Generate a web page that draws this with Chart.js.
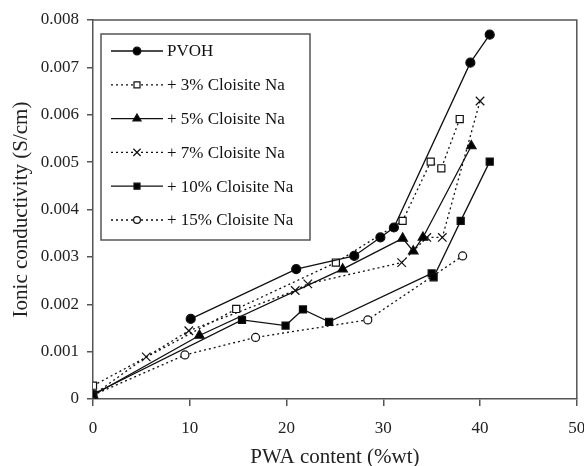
<!DOCTYPE html>
<html>
<head>
<meta charset="utf-8">
<script src="https://cdn.jsdelivr.net/npm/chart.js@4"></script>
<style>
  html, body { margin: 0; padding: 0; background: #fff; }
  #wrap { width: 584px; height: 466px; }
</style>
</head>
<body>
<div id="wrap"><canvas id="chart" width="584" height="466"></canvas></div>
<script>
// ---- data ----
const seriesNames = ['PVOH', '+ 3% Cloisite Na', '+ 5% Cloisite Na', '+ 7% Cloisite Na', '+ 10% Cloisite Na', '+ 15% Cloisite Na'];

const pwaPvoh  = [10.1, 21.0, 27.0, 29.7, 31.1, 39.0, 41.0];
const condPvoh = [0.00169, 0.00274, 0.00302, 0.00341, 0.00362, 0.00710, 0.00769];

const pwa3  = [0, 14.8, 25.1, 32.0, 34.9, 36.0, 37.9];
const cond3 = [0.00028, 0.00190, 0.00288, 0.00376, 0.00501, 0.00487, 0.00591];

const pwa5  = [0, 11.0, 25.8, 32.0, 33.1, 34.1, 39.1];
const cond5 = [0.00008, 0.00134, 0.00274, 0.00339, 0.00312, 0.00341, 0.00534];

const pwa7  = [0, 5.5, 9.9, 20.9, 22.2, 31.9, 34.5, 36.1, 40.0];
const cond7 = [0.00008, 0.00089, 0.00144, 0.00229, 0.00243, 0.00288, 0.00341, 0.00341, 0.00629];

const pwa10  = [0, 15.4, 19.9, 21.7, 24.4, 35.0, 35.2, 38.0, 41.0];
const cond10 = [0.00010, 0.00167, 0.00155, 0.00189, 0.00163, 0.00265, 0.00257, 0.00376, 0.00501];

const pwa15  = [0, 9.5, 16.8, 28.4, 38.2];
const cond15 = [0.00008, 0.00093, 0.00130, 0.00167, 0.00302];

const xTicks = [0, 10, 20, 30, 40, 50];
const yTicks = [0, 0.001, 0.002, 0.003, 0.004, 0.005, 0.006, 0.007, 0.008];

// ---- styling ----
const FONT = "'Liberation Serif', 'Times New Roman', serif";
const AXIS = '#555';
const DOT = [2, 3];

const pts = (xs, ys) => xs.map((x, i) => ({ x, y: ys[i] }));

const styles = [
  { pointStyle: 'circle',   fill: '#000', r: 4.5, dash: [] },
  { pointStyle: 'rect',     fill: '#fff', r: 5,   dash: DOT },
  { pointStyle: 'triangle', fill: '#000', r: 5.5, dash: [] },
  { pointStyle: 'crossRot', fill: '#000', r: 6,   dash: DOT },
  { pointStyle: 'rect',     fill: '#000', r: 5,   dash: [] },
  { pointStyle: 'circle',   fill: '#fff', r: 4,   dash: DOT }
];

const rawData = [
  pts(pwaPvoh, condPvoh), pts(pwa3, cond3), pts(pwa5, cond5),
  pts(pwa7, cond7), pts(pwa10, cond10), pts(pwa15, cond15)
];

const datasets = rawData.map((data, i) => ({
  label: seriesNames[i],
  data,
  showLine: true,
  borderColor: '#111',
  borderWidth: 1.3,
  borderDash: styles[i].dash,
  pointStyle: styles[i].pointStyle,
  pointRadius: styles[i].r,
  pointBackgroundColor: styles[i].fill,
  pointBorderColor: '#111',
  pointBorderWidth: 1.2,
  tension: 0
}));

// plot frame on top and right
const framePlugin = {
  id: 'frame',
  afterDraw(chart) {
    const { ctx, chartArea: a } = chart;
    ctx.save();
    ctx.strokeStyle = AXIS;
    ctx.lineWidth = 1.5;
    ctx.beginPath();
    ctx.moveTo(a.left, a.top);
    ctx.lineTo(a.right, a.top);
    ctx.lineTo(a.right, a.bottom);
    ctx.stroke();
    ctx.restore();
  }
};

// boxed legend inside the plot, upper left
const boxLegend = {
  id: 'boxLegend',
  afterDraw(chart) {
    const ctx = chart.ctx;
    const bx = 101, by = 34, bw = 209, bh = 206;
    ctx.save();
    ctx.fillStyle = '#fff';
    ctx.fillRect(bx, by, bw, bh);
    ctx.strokeStyle = AXIS;
    ctx.lineWidth = 1.5;
    ctx.strokeRect(bx, by, bw, bh);
    chart.data.datasets.forEach((ds, i) => {
      const y = 51 + i * 33.8;
      ctx.strokeStyle = '#111';
      ctx.lineWidth = 1.3;
      ctx.setLineDash(ds.borderDash);
      ctx.beginPath();
      ctx.moveTo(111, y);
      ctx.lineTo(163, y);
      ctx.stroke();
      ctx.setLineDash([]);
      ctx.fillStyle = ds.pointBackgroundColor;
      ctx.lineWidth = 1.2;
      Chart.helpers.drawPoint(ctx, { pointStyle: ds.pointStyle, radius: ds.pointRadius * 0.85, borderWidth: 1.2 }, 137, y);
      ctx.fillStyle = '#111';
      ctx.font = '17px ' + FONT;
      ctx.textBaseline = 'middle';
      ctx.fillText(ds.label, 167, y + 1);
    });
    ctx.restore();
  }
};

new Chart(document.getElementById('chart'), {
  type: 'scatter',
  data: { datasets },
  plugins: [framePlugin, boxLegend],
  options: {
    responsive: false,
    animation: false,
    layout: { padding: { top: 20, right: 6, left: 0, bottom: 0 } },
    plugins: { legend: { display: false }, tooltip: { enabled: false } },
    scales: {
      x: {
        type: 'linear',
        min: 0, max: 50,
        afterBuildTicks: (s) => { s.ticks = xTicks.map(v => ({ value: v })); },
        afterFit: (s) => { s.height = 67; s.paddingRight = 0; s.paddingLeft = 0; },
        grid: { drawOnChartArea: false, drawTicks: true, tickLength: 7, color: AXIS, lineWidth: 1.5 },
        border: { color: AXIS, width: 1.5 },
        ticks: { color: '#222', padding: 12, font: { family: FONT, size: 17 } },
        title: { display: true, text: 'PWA content (%wt)', color: '#222', padding: 0, font: { family: FONT, size: 21, lineHeight: 0.8 } }
      },
      y: {
        type: 'linear',
        min: 0, max: 0.008,
        afterBuildTicks: (s) => { s.ticks = yTicks.map(v => ({ value: v })); },
        afterFit: (s) => { s.width = 93; },
        grid: { drawOnChartArea: false, drawTicks: true, tickLength: 6, color: AXIS, lineWidth: 1.5 },
        border: { color: AXIS, width: 1.5 },
        ticks: {
          color: '#222', padding: 8, font: { family: FONT, size: 17 },
          callback: (v) => v === 0 ? '0' : v.toFixed(3)
        },
        title: { display: true, text: 'Ionic conductivity (S/cm)', color: '#222', padding: { top: 9, bottom: 0 }, font: { family: FONT, size: 21, lineHeight: 1.2 } }
      }
    }
  }
});
</script>
</body>
</html>
